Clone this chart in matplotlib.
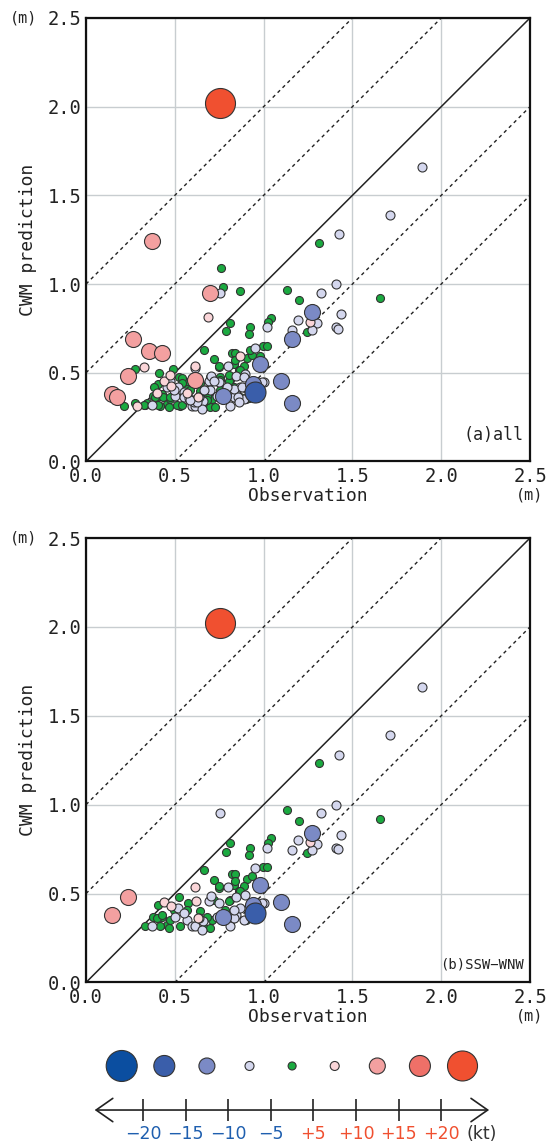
import numpy as np
import matplotlib
matplotlib.use("Agg")
import matplotlib.pyplot as plt
from matplotlib.patches import FancyArrowPatch

# 風速差の階級 (kt) ごとの色と丸の直径 (px)
wind_bins = [-20, -15, -10, -5, 0, 5, 10, 15, 20]
bin_colors = ['#0B4EA0', '#3A5EAA', '#7B8AC5', '#D4D7EE', '#1AAA40',
              '#FAD5D8', '#F3A0A0', '#EF7068', '#F05030']
bin_diam = [31, 21, 16, 9, 8, 9, 16, 21, 30]

# 数直線の目盛 (0 は表示しない)
kt_ticks = ['\u221220', '\u221215', '\u221210', '\u22125', '+5', '+10', '+15', '+20']
kt_tick_colors = ['#1F5FAF'] * 4 + ['#F05030'] * 4

# SSW-WNW 方向のデータ: 観測値, CWM 予測値 (m), 風速差の階級
obs_sw = [0.752,
          0.239, 0.145,
          0.615, 0.438, 0.479, 0.621, 0.628, 1.259,
          1.274, 0.982, 0.941, 1.097, 1.161, 0.772,
          0.950,
          1.890, 1.710, 1.424, 1.405, 1.433, 1.405, 1.420, 0.755, 1.321, 1.193,
          1.298, 1.161, 1.270, 1.020, 0.954, 0.798, 0.893, 0.846, 0.747, 1.000,
          0.846, 0.869, 0.813, 0.888, 0.371, 0.517, 0.690, 0.703, 0.656, 0.568,
          0.502, 0.596, 0.615, 0.549, 0.832, 0.652, 0.634, 0.737, 0.832, 0.991,
          1.311, 1.655, 1.133, 1.197, 1.242, 1.039, 1.023, 0.813, 0.790, 0.922,
          0.916, 0.995, 1.020, 0.822, 0.841, 0.907, 0.935, 0.719, 0.747, 0.831,
          0.888, 0.860, 0.808, 0.719, 0.903, 0.709, 0.662, 0.521, 0.408, 0.577,
          0.568, 0.681, 0.380, 0.427, 0.455, 0.530, 0.333, 0.418, 0.662, 0.474,
          0.493, 0.700, 0.643, 0.785, 0.399, 0.465, 0.427, 0.869, 0.841, 0.747,
          0.803]
cwm_sw = [2.020,
          0.482, 0.381,
          0.536, 0.452, 0.428, 0.456, 0.362, 0.789,
          0.842, 0.550, 0.436, 0.454, 0.331, 0.371,
          0.390,
          1.660, 1.391, 1.280, 0.998, 0.830, 0.759, 0.748, 0.951, 0.951, 0.800,
          0.780, 0.743, 0.743, 0.757, 0.642, 0.538, 0.494, 0.481, 0.447, 0.447,
          0.381, 0.418, 0.315, 0.353, 0.319, 0.419, 0.456, 0.484, 0.343, 0.353,
          0.371, 0.315, 0.315, 0.390, 0.362, 0.296, 0.362, 0.367, 0.409, 0.447,
          1.233, 0.921, 0.968, 0.908, 0.729, 0.810, 0.785, 0.782, 0.733, 0.757,
          0.716, 0.650, 0.650, 0.610, 0.610, 0.582, 0.600, 0.576, 0.531, 0.550,
          0.541, 0.513, 0.462, 0.466, 0.353, 0.353, 0.631, 0.479, 0.437, 0.447,
          0.409, 0.371, 0.371, 0.371, 0.324, 0.315, 0.319, 0.315, 0.305, 0.353,
          0.409, 0.306, 0.400, 0.409, 0.362, 0.306, 0.381, 0.513, 0.570, 0.541,
          0.456]
wind_sw = ([20] + [10] * 2 + [5] * 6 + [-10] * 6 + [-15] + [-5] * 40 + [0] * 51)

# その他の方向のデータ (全データ = SSW-WNW + その他)
obs_other = [0.371, 0.696, 0.267, 0.357, 0.429, 0.172, 0.615,
             0.686, 0.326, 0.288, 0.398, 0.474, 0.869, 0.568,
             1.161,
             0.455, 0.493, 0.549, 0.578, 0.606, 0.672, 0.718, 0.794, 0.856, 0.887,
             0.615, 0.700, 0.879, 0.860, 0.935, 0.474, 0.662, 0.624, 0.587,
             0.758, 0.769, 0.869, 0.277, 0.216, 0.277, 0.412, 0.489, 0.389, 0.384,
             0.436, 0.512, 0.540, 0.408, 0.540, 0.568, 0.606, 0.643, 0.700, 0.756,
             0.831, 0.869, 0.906, 0.926, 0.982, 0.756, 0.643, 0.587, 0.342, 0.324,
             0.681, 0.540, 0.474, 0.728, 0.917, 0.756, 0.803]
cwm_other = [1.240, 0.949, 0.688, 0.620, 0.612, 0.361, 0.460,
             0.817, 0.530, 0.311, 0.385, 0.485, 0.592, 0.385,
             0.690,
             0.422, 0.404, 0.366, 0.357, 0.338, 0.404, 0.451, 0.422, 0.366, 0.479,
             0.526, 0.404, 0.422, 0.338, 0.451, 0.451, 0.404, 0.338, 0.347,
             1.090, 0.983, 0.962, 0.522, 0.313, 0.328, 0.501, 0.522, 0.366, 0.422,
             0.366, 0.319, 0.319, 0.319, 0.469, 0.366, 0.319, 0.366, 0.479, 0.479,
             0.422, 0.366, 0.366, 0.629, 0.592, 0.404, 0.441, 0.404, 0.328, 0.319,
             0.347, 0.441, 0.366, 0.309, 0.357, 0.460, 0.489]
wind_other = [10] * 7 + [5] * 7 + [-10] + [-5] * 19 + [0] * 37

mono = 'DejaVu Sans Mono'
narrow = ['Liberation Sans Narrow', 'DejaVu Sans']
px = 0.72  # 1 px in points at dpi=100


def draw_panel(ax, obs, cwm, wind, tag, tag_y, tag_size):
    obs, cwm, wind = np.array(obs), np.array(cwm), np.array(wind)
    ax.set_xlim(0, 2.5)
    ax.set_ylim(0, 2.5)
    ticks = np.arange(0, 2.51, 0.5)
    ax.set_xticks(ticks)
    ax.set_yticks(ticks)
    ax.set_xticklabels([f'{t:.1f}' for t in ticks], family=mono, fontsize=13.5)
    ax.set_yticklabels([f'{t:.1f}' for t in ticks], family=mono, fontsize=13.5)
    ax.tick_params(axis='both', length=0, colors='#222222')
    ax.tick_params(axis='x', pad=4)
    ax.tick_params(axis='y', pad=3)
    ax.grid(True, color='#C8CDD0', lw=1.0)
    ax.set_axisbelow(True)
    for sp in ax.spines.values():
        sp.set_linewidth(1.6)
        sp.set_color('#111111')

    # 1:1 線と ±0.5, ±1.0 m の線
    ax.axline((0, 0), (1, 1), color='#222222', lw=1.1, zorder=1)
    for off in (-1.0, -0.5, 0.5, 1.0):
        ax.axline((0, off), (1, 1 + off), color='#222222', lw=1.0,
                  ls=(0, (2.5, 2.5)), zorder=1)

    # 小さい丸から順に描く
    order = [0, -5, 5, -10, 10, -15, 15, -20, 20]
    for b in order:
        i = wind_bins.index(b)
        m = wind == b
        if not m.any():
            continue
        ax.scatter(obs[m], cwm[m], s=(bin_diam[i] * px) ** 2, c=bin_colors[i],
                   edgecolors='#333333', linewidths=0.8, zorder=3)

    ax.set_xlabel('Observation', family=mono, fontsize=13, labelpad=1,
                  color='#222222')
    ax.set_ylabel('CWM prediction', family=mono, fontsize=13, labelpad=8,
                  color='#222222')
    ax.text(-0.14, 1.0, '(m)', transform=ax.transAxes, family=mono,
            fontsize=11, ha='center', va='center', color='#222222')
    ax.text(1.0, -0.076, '(m)', transform=ax.transAxes, family=mono,
            fontsize=11, ha='center', va='center', color='#222222')
    ax.text(2.465, tag_y, tag, family=mono, fontsize=tag_size, ha='right',
            va='center', color='#222222')


fig = plt.figure(figsize=(5.51, 11.44), dpi=100)

ax_a = fig.add_axes([0.1561, 0.5966, 0.8058, 0.3877])
draw_panel(ax_a, obs_sw + obs_other, cwm_sw + cwm_other, wind_sw + wind_other,
           '(a)all', 0.15, 12)

ax_b = fig.add_axes([0.1561, 0.1412, 0.8058, 0.3885])
draw_panel(ax_b, obs_sw, cwm_sw, wind_sw, '(b)SSW\u2212WNW', 0.10, 10)

# 凡例: 風速差の数直線
ax_leg = fig.add_axes([0, 0, 1, 0.1])
ax_leg.set_xlim(-3.357, 9.577)
ax_leg.set_ylim(0, 1)
ax_leg.axis('off')

circle_pos = np.arange(len(wind_bins)) - 0.5
ax_leg.scatter(circle_pos, np.full(len(wind_bins), 0.682),
               s=[(d * px) ** 2 for d in bin_diam], c=bin_colors,
               edgecolors='#333333', linewidths=0.8, zorder=3)

arrow = FancyArrowPatch((-1.2, 0.297), (8.19, 0.297),
                        arrowstyle='<->,head_length=0.6,head_width=0.42',
                        mutation_scale=20, lw=1.2, color='#222222')
ax_leg.add_patch(arrow)
tick_pos = np.arange(len(kt_ticks))
ax_leg.vlines(tick_pos, 0.20, 0.39, color='#222222', lw=1.2)
for x, lab, col in zip(tick_pos, kt_ticks, kt_tick_colors):
    ax_leg.text(x, 0.085, lab, ha='center', va='center', fontsize=12.5,
                color=col, family=narrow)
ax_leg.text(7.94, 0.085, '(kt)', ha='center', va='center', fontsize=12.5,
            color='#333333', family=narrow)

fig.savefig('out.png', dpi=100)
